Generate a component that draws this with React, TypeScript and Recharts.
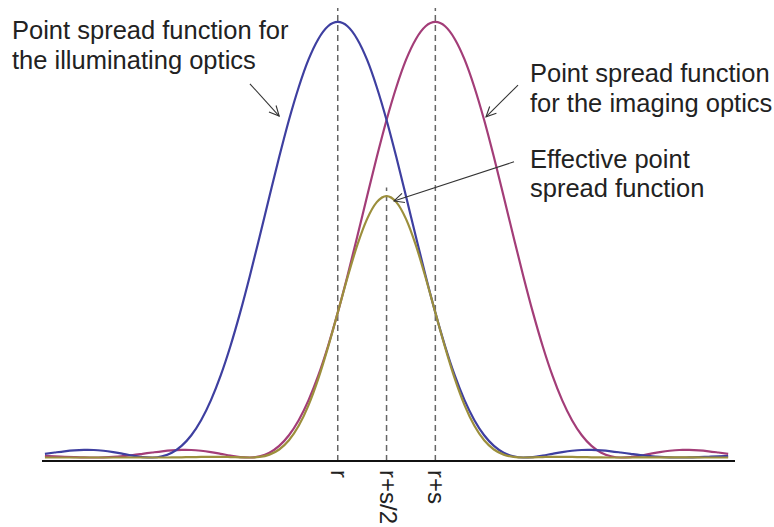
import { LineChart, Line, XAxis, YAxis, ReferenceLine } from "recharts";

// position along the axis, in units of s, with r at 0
const positions = [
  -3.0, -2.9, -2.8, -2.7, -2.6, -2.5, -2.4, -2.3, -2.2, -2.1,
  -2.0, -1.9, -1.8, -1.7, -1.6, -1.5, -1.4, -1.3, -1.2, -1.1,
  -1.0, -0.9, -0.8, -0.7, -0.6, -0.5, -0.4, -0.3, -0.2, -0.1,
  0.0, 0.1, 0.2, 0.3, 0.4, 0.5, 0.6, 0.7, 0.8, 0.9,
  1.0, 1.1, 1.2, 1.3, 1.4, 1.5, 1.6, 1.7, 1.8, 1.9,
  2.0, 2.1, 2.2, 2.3, 2.4, 2.5, 2.6, 2.7, 2.8, 2.9,
  3.0, 3.1, 3.2, 3.3, 3.4, 3.5, 3.6, 3.7, 3.8, 3.9,
  4.0,
];

const illuminating = [
  0.0085, 0.0115, 0.0143, 0.0164, 0.0174, 0.0172, 0.0155, 0.0124, 0.0085, 0.0044,
  0.0011, 0.0, 0.0028, 0.0111, 0.0267, 0.0511, 0.0856, 0.1312, 0.1879, 0.2555,
  0.3326, 0.4175, 0.5075, 0.5993, 0.6897, 0.7748, 0.8501, 0.9133, 0.9604, 0.99,
  1.0, 0.99, 0.9604, 0.9133, 0.8501, 0.7748, 0.6897, 0.5993, 0.5075, 0.4175,
  0.3326, 0.2555, 0.1879, 0.1312, 0.0856, 0.0511, 0.0267, 0.0111, 0.0028, 0.0,
  0.0011, 0.0044, 0.0085, 0.0124, 0.0155, 0.0172, 0.0174, 0.0164, 0.0143, 0.0115,
  0.0085, 0.0056, 0.0032, 0.0014, 0.0004, 0.0, 0.0002, 0.0009, 0.0018, 0.0027,
  0.0034,
];

const imaging = [
  0.0034, 0.0027, 0.0018, 0.0009, 0.0002, 0.0, 0.0004, 0.0014, 0.0032, 0.0056,
  0.0085, 0.0115, 0.0143, 0.0164, 0.0174, 0.0172, 0.0155, 0.0124, 0.0085, 0.0044,
  0.0011, 0.0, 0.0028, 0.0111, 0.0267, 0.0511, 0.0856, 0.1312, 0.1879, 0.2555,
  0.3326, 0.4175, 0.5075, 0.5993, 0.6897, 0.7748, 0.8501, 0.9133, 0.9604, 0.99,
  1.0, 0.99, 0.9604, 0.9133, 0.8501, 0.7748, 0.6897, 0.5993, 0.5075, 0.4175,
  0.3326, 0.2555, 0.1879, 0.1312, 0.0856, 0.0511, 0.0267, 0.0111, 0.0028, 0.0,
  0.0011, 0.0044, 0.0085, 0.0124, 0.0155, 0.0172, 0.0174, 0.0164, 0.0143, 0.0115,
  0.0085,
];

const effective = [
  0, 0, 0, 0, 0, 0, 0, 0, 0, 0,
  0, 0, 0, 0.0002, 0.0005, 0.0009, 0.0013, 0.0016, 0.0016, 0.0011,
  0.0004, 0, 0.0014, 0.0067, 0.0184, 0.0396, 0.0728, 0.1198, 0.1805, 0.2529,
  0.3326, 0.4133, 0.4874, 0.5473, 0.5863, 0.6003, 0.5863, 0.5473, 0.4874, 0.4133,
  0.3326, 0.2529, 0.1805, 0.1198, 0.0728, 0.0396, 0.0184, 0.0067, 0.0014, 0,
  0.0004, 0.0011, 0.0016, 0.0016, 0.0013, 0.0009, 0.0005, 0.0002, 0, 0,
  0, 0.0001, 0.0001, 0.0002, 0.0002, 0.0002, 0.0001, 0.0001, 0, 0,
  0,
];

const tickValues = [0, 0.5, 1];
const tickLabels = ["r", "r+s/2", "r+s"];

// annotation arrows in data units: [fromX, fromY, toX, toY]
const arrows = [
  [-0.9, 0.858, -0.6, 0.784],
  [1.847, 0.855, 1.519, 0.782],
  [1.806, 0.679, 0.577, 0.589],
];

const data = positions.map((x, i) => ({
  x,
  illuminating: illuminating[i],
  imaging: imaging[i],
  effective: effective[i],
}));

const FONT = "'Liberation Sans', Arial, Helvetica, sans-serif";

function RotatedTick(props: any) {
  const { x, y, payload } = props;
  const idx = tickValues.indexOf(payload.value);
  return (
    <text
      transform={`translate(${x - 7}, ${y + 1}) rotate(90)`}
      textAnchor="start"
      fontSize={24}
      fontFamily={FONT}
      fill="#222"
    >
      {tickLabels[idx]}
    </text>
  );
}

function Arrow(props: any) {
  const { x1, y1, x2, y2 } = props;
  const ang = Math.atan2(y2 - y1, x2 - x1);
  const len = 11;
  const spread = 0.45;
  const a1x = x2 - len * Math.cos(ang - spread);
  const a1y = y2 - len * Math.sin(ang - spread);
  const a2x = x2 - len * Math.cos(ang + spread);
  const a2y = y2 - len * Math.sin(ang + spread);
  return (
    <g stroke="#333" strokeWidth={1.1} fill="none">
      <line x1={x1} y1={y1} x2={x2} y2={y2} />
      <polyline points={`${a1x},${a1y} ${x2},${y2} ${a2x},${a2y}`} />
    </g>
  );
}

const labelStyle = { fontSize: 25.5, fontFamily: FONT, fill: "#222" };
const dash = { stroke: "#666", strokeWidth: 1.5, strokeDasharray: "6 4" };

export default function App() {
  return (
    <div style={{ position: "absolute", left: 0, top: 0, width: 774, height: 527, background: "#fff" }}>
      <LineChart
        width={774}
        height={527}
        data={data}
        margin={{ top: 8, right: 39, left: 42, bottom: 0 }}
      >
        <XAxis
          dataKey="x"
          type="number"
          domain={[-3.03, 4.07]}
          ticks={tickValues}
          tickLine={false}
          tick={<RotatedTick />}
          height={66}
          axisLine={{ stroke: "#111", strokeWidth: 2 }}
          allowDataOverflow
        />
        <YAxis hide type="number" domain={[-0.008, 1.032]} allowDataOverflow />
        <ReferenceLine x={0} {...dash} />
        <ReferenceLine x={1} {...dash} />
        <ReferenceLine segment={[{ x: 0.5, y: -0.008 }, { x: 0.5, y: 0.62 }]} {...dash} />
        <Line
          type="monotone"
          dataKey="imaging"
          stroke="#a33d78"
          strokeWidth={2.2}
          dot={false}
          isAnimationActive={false}
        />
        <Line
          type="monotone"
          dataKey="illuminating"
          stroke="#3e3fa0"
          strokeWidth={2.2}
          dot={false}
          isAnimationActive={false}
        />
        <Line
          type="monotone"
          dataKey="effective"
          stroke="#9c8f3c"
          strokeWidth={2.2}
          dot={false}
          isAnimationActive={false}
        />
        {arrows.map((a, i) => (
          <ReferenceLine
            key={i}
            segment={[{ x: a[0], y: a[1] }, { x: a[2], y: a[3] }]}
            shape={(p: any) => <Arrow {...p} />}
          />
        ))}
      </LineChart>
      <svg
        width={774}
        height={527}
        style={{ position: "absolute", left: 0, top: 0, pointerEvents: "none" }}
      >
        <text x={12} y={39} {...labelStyle}>Point spread function for</text>
        <text x={12} y={69} {...labelStyle}>the illuminating optics</text>
        <text x={530} y={82} {...labelStyle}>Point spread function</text>
        <text x={530} y={112} {...labelStyle}>for the imaging optics</text>
        <text x={530} y={168} {...labelStyle}>Effective point</text>
        <text x={530} y={197} {...labelStyle}>spread function</text>
      </svg>
    </div>
  );
}
